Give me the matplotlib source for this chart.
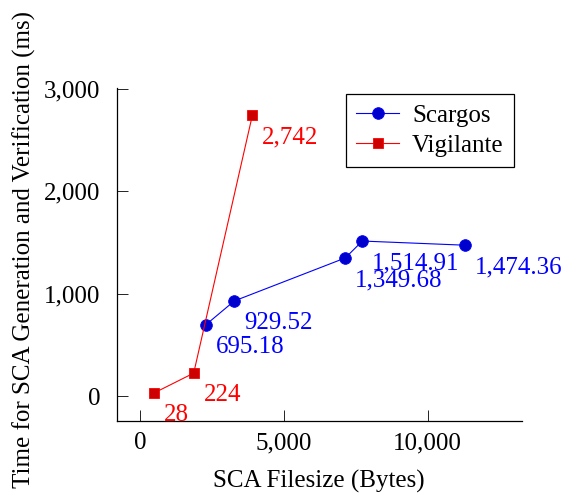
import matplotlib
matplotlib.use('Agg')
import matplotlib.pyplot as plt
from matplotlib.ticker import FuncFormatter, FixedLocator

plt.rcParams['font.family'] = ['Liberation Serif', 'DejaVu Serif']
plt.rcParams['font.size'] = 18

# data
scargos_size = [2284, 3280, 7139, 7730, 11290]
scargos_time = [695.18, 929.52, 1349.68, 1514.91, 1474.36]
vigilante_size = [476, 1867, 3905]
vigilante_time = [28, 224, 2742]

x_ticks = [0, 5000, 10000]
y_ticks = [0, 1000, 2000, 3000]

fig = plt.figure(figsize=(5.66, 4.95), dpi=100)
ax = fig.add_axes([0.2062, 0.1497, 0.7155, 0.673])

ax.plot(scargos_size, scargos_time, color='#0000ff', lw=0.8, marker='o',
        markersize=8.4, markerfacecolor='#0000cc', markeredgecolor='#0000ff',
        markeredgewidth=0.6, label='Scargos')
ax.plot(vigilante_size, vigilante_time, color='#ff0000', lw=0.8, marker='s',
        markersize=7.6, markerfacecolor='#cc0000', markeredgecolor='#ff0000',
        markeredgewidth=0.6, label='Vigilante')

# value labels below right of each point
for x, y in zip(scargos_size, scargos_time):
    ax.annotate('{:,.2f}'.format(y), (x, y), xytext=(7, -8),
                textcoords='offset points', ha='left', va='top', color='#0000ff')
for x, y in zip(vigilante_size, vigilante_time):
    ax.annotate('{:,.0f}'.format(y), (x, y), xytext=(7, -8),
                textcoords='offset points', ha='left', va='top', color='#ff0000')

ax.set_xlim(-810, 13272)
ax.set_ylim(-243, 3013)
ax.xaxis.set_major_locator(FixedLocator(x_ticks))
ax.yaxis.set_major_locator(FixedLocator(y_ticks))
fmt = FuncFormatter(lambda v, p: '{:,.0f}'.format(v))
ax.xaxis.set_major_formatter(fmt)
ax.yaxis.set_major_formatter(fmt)
ax.tick_params(direction='in', length=8, width=0.6, labelsize=18)
ax.tick_params(axis='x', pad=8)
ax.tick_params(axis='y', pad=12)

for s in ['top', 'right']:
    ax.spines[s].set_visible(False)
for s in ['left', 'bottom']:
    ax.spines[s].set_linewidth(0.9)

ax.set_xlabel('SCA Filesize (Bytes)')
ax.set_ylabel('Time for SCA Generation and Verification (ms)')
ax.xaxis.set_label_coords(0.5, -0.147)
ax.yaxis.set_label_coords(-0.199, 0.516)

leg = ax.legend(loc='upper right', bbox_to_anchor=(0.98, 0.98), borderaxespad=0,
                numpoints=1, handlelength=1.72, handletextpad=0.5,
                labelspacing=0.3, borderpad=0.4, fancybox=False,
                edgecolor='black', framealpha=1, fontsize=18)
leg.get_frame().set_linewidth(0.9)

fig.savefig('out.png', dpi=100)
